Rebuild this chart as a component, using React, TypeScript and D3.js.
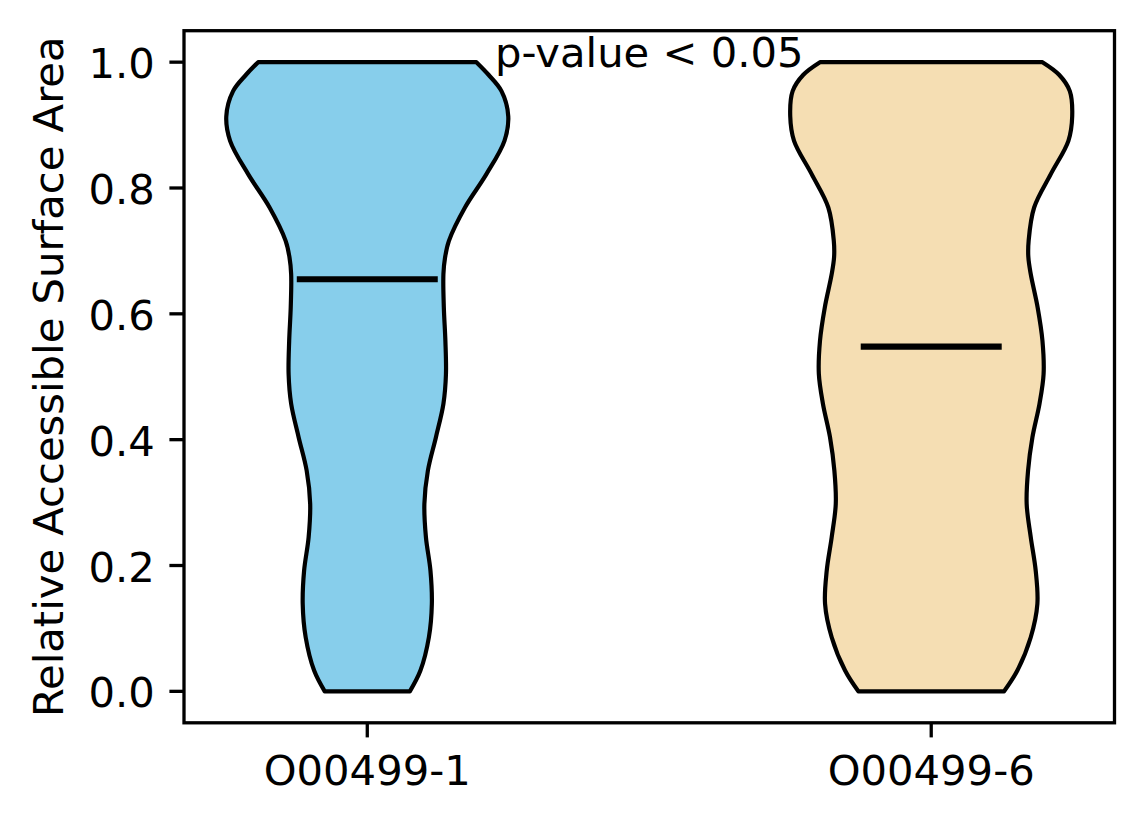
import React from "react";
import * as d3 from "d3";

const categories = ["O00499-1", "O00499-6"];
const positions = [1, 2];
const colors = ["#87CEEB", "#F5DEB3"];
const gridY = [0, 0.033, 0.086, 0.139, 0.192, 0.245, 0.298, 0.351, 0.404, 0.457, 0.504, 0.557, 0.61, 0.663, 0.69, 0.716, 0.769, 0.822, 0.875, 0.914, 0.954, 0.98, 1.0];
const density1 = [0.302, 0.377, 0.437, 0.458, 0.448, 0.416, 0.405, 0.43, 0.487, 0.54, 0.558, 0.554, 0.543, 0.54, 0.552, 0.579, 0.693, 0.845, 0.973, 1.0, 0.952, 0.86, 0.774];
const density2 = [0.517, 0.611, 0.706, 0.753, 0.741, 0.706, 0.677, 0.687, 0.718, 0.768, 0.797, 0.789, 0.755, 0.706, 0.689, 0.691, 0.73, 0.848, 0.973, 1.0, 0.983, 0.907, 0.789];
const densities = [density1, density2];
const medians = [0.655, 0.548];
const yTicks = [0, 0.2, 0.4, 0.6, 0.8, 1.0];
const annotation = "p-value < 0.05";
const yLabel = "Relative Accessible Surface Area";

const W = 1144;
const H = 824;
const left = 184;
const right = 1114.5;
const top = 30.7;
const bottom = 722.8;
const FONT = "'DejaVu Sans', sans-serif";
const FS = 41.7;
const TICK = 14.6;

export default function App() {
  const x = d3.scaleLinear().domain([0.675, 2.325]).range([left, right]);
  const y = d3.scaleLinear().domain([-0.05, 1.05]).range([bottom, top]);
  const halfMax = 0.25;

  return (
    <svg width={W} height={H} style={{ position: "absolute", left: 0, top: 0, background: "#fff" }} fontFamily={FONT}>
      <rect x={0} y={0} width={W} height={H} fill="#fff" />
      {positions.map((p, i) => {
        const pts = gridY.map((v, j) => ({ v, d: densities[i][j] }));
        const area = d3
          .area<{ v: number; d: number }>()
          .y((d) => y(d.v))
          .x0((d) => x(p - d.d * halfMax))
          .x1((d) => x(p + d.d * halfMax))
          .curve(d3.curveCatmullRom.alpha(0.5));
        return (
          <g key={categories[i]}>
            <path d={area(pts) || ""} fill={colors[i]} stroke="#000" strokeWidth={4.2} strokeLinejoin="round" />
            <line
              x1={x(p - halfMax / 2)}
              x2={x(p + halfMax / 2)}
              y1={y(medians[i])}
              y2={y(medians[i])}
              stroke="#000"
              strokeWidth={6.2}
            />
          </g>
        );
      })}
      <rect x={left} y={top} width={right - left} height={bottom - top} fill="none" stroke="#000" strokeWidth={3.3} />
      {yTicks.map((t) => (
        <g key={t}>
          <line x1={left - TICK} x2={left} y1={y(t)} y2={y(t)} stroke="#000" strokeWidth={3.3} />
          <text x={left - TICK - 14.6} y={y(t) + 16} fontSize={FS} textAnchor="end" fill="#000">
            {t.toFixed(1)}
          </text>
        </g>
      ))}
      {positions.map((p, i) => (
        <g key={"x" + p}>
          <line x1={x(p)} x2={x(p)} y1={bottom} y2={bottom + TICK} stroke="#000" strokeWidth={3.3} />
          <text x={x(p)} y={785} fontSize={FS} textAnchor="middle" fill="#000">
            {categories[i]}
          </text>
        </g>
      ))}
      <text x={x(1.5)} y={67} fontSize={FS} textAnchor="middle" fill="#000">
        {annotation}
      </text>
      <text transform={`translate(63, ${(top + bottom) / 2}) rotate(-90)`} fontSize={FS} textAnchor="middle" fill="#000">
        {yLabel}
      </text>
    </svg>
  );
}
